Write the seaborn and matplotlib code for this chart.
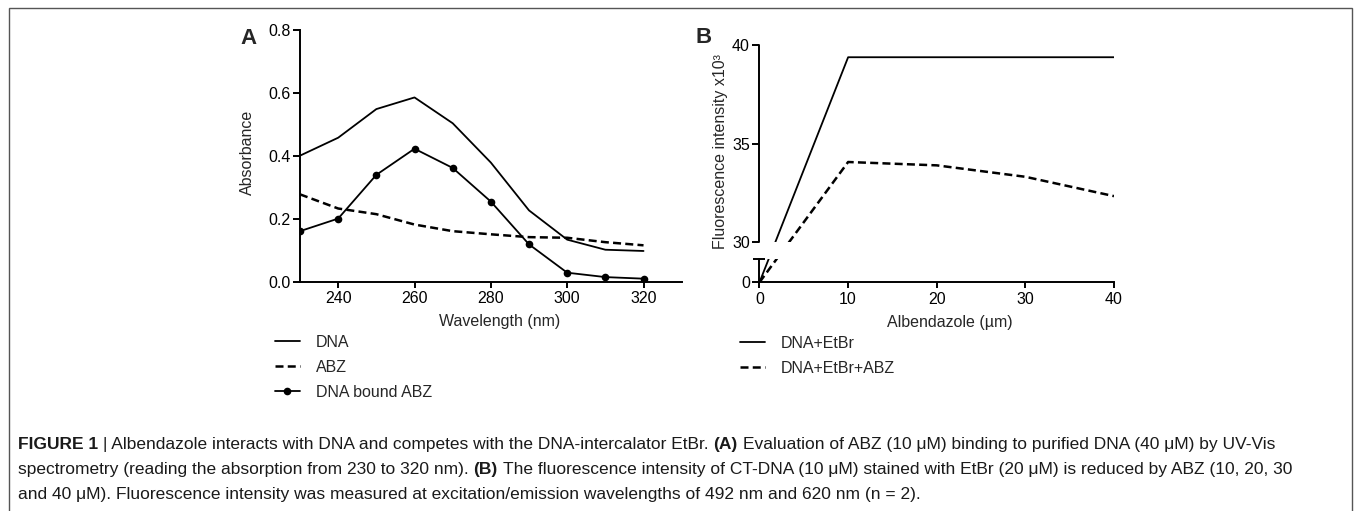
import numpy as np
import pandas as pd
import matplotlib
matplotlib.use("Agg")
import matplotlib.pyplot as plt
import seaborn as sns
from matplotlib.lines import Line2D
from matplotlib.patches import Rectangle

# === DATA ===
wavelength = [230, 240, 250, 260, 270, 280, 290, 300, 310, 320]
abs_dna = [0.400, 0.457, 0.548, 0.585, 0.503, 0.378, 0.226, 0.133, 0.101, 0.097]
abs_abz = [0.277, 0.232, 0.214, 0.181, 0.160, 0.150, 0.141, 0.139, 0.125, 0.115]
abs_bound = [0.160, 0.200, 0.339, 0.422, 0.361, 0.254, 0.118, 0.028, 0.014, 0.009]

albendazole = [0, 10, 20, 30, 40]
fl_etbr = [0.0, 39.38, 39.38, 39.38, 39.38]
fl_etbr_abz = [0.0, 34.07, 33.90, 33.32, 32.34]

labels_a = ["DNA", "ABZ", "DNA bound ABZ"]
labels_b = ["DNA+EtBr", "DNA+EtBr+ABZ"]

caption = [
    [("FIGURE 1", "bold"), ("| Albendazole interacts with DNA and competes with the DNA-intercalator EtBr.", "normal"),
     ("(A)", "bold"), ("Evaluation of ABZ (10 \u03bcM) binding to purified DNA (40 \u03bcM) by UV-Vis", "normal")],
    [("spectrometry (reading the absorption from 230 to 320 nm).", "normal"), ("(B)", "bold"),
     ("The fluorescence intensity of CT-DNA (10 \u03bcM) stained with EtBr (20 \u03bcM) is reduced by ABZ (10, 20, 30", "normal")],
    [("and 40 \u03bcM). Fluorescence intensity was measured at excitation/emission wavelengths of 492 nm and 620 nm (n = 2).", "normal")],
]

# === STYLE ===
sns.set_theme(style="ticks")
plt.rcParams["font.family"] = ["Liberation Sans", "DejaVu Sans"]
plt.rcParams.update({
    "font.size": 11.5,
    "axes.linewidth": 1.4,
    "xtick.major.width": 1.4,
    "ytick.major.width": 1.4,
    "xtick.major.size": 4,
    "ytick.major.size": 5,
    "xtick.major.pad": 3,
    "ytick.major.pad": 2,
    "xtick.labelsize": 11.5,
    "ytick.labelsize": 11.5,
    "axes.labelsize": 11.5,
    "xtick.color": "black",
    "ytick.color": "black",
    "axes.edgecolor": "black",
})

W, H = 1355, 511
fig = plt.figure(figsize=(W / 100, H / 100), dpi=100)


def px_axes(left, right, top, bottom):
    return fig.add_axes([left / W, 1 - bottom / H, (right - left) / W, (bottom - top) / H])


dash = (0, (3.2, 1.7))
lw = 1.3

# === PANEL A ===
ax = px_axes(300, 681.7, 29.8, 281.5)
df_a = pd.DataFrame({"wl": wavelength, "dna": abs_dna, "abz": abs_abz, "bound": abs_bound})
sns.lineplot(data=df_a, x="wl", y="dna", ax=ax, color="black", lw=lw)
sns.lineplot(data=df_a, x="wl", y="abz", ax=ax, color="black", lw=1.8, linestyle=dash)
sns.lineplot(data=df_a, x="wl", y="bound", ax=ax, color="black", lw=lw, marker="o", markersize=5.5,
             markeredgewidth=0)
ax.set_xlim(230, 330)
ax.set_ylim(0, 0.8)
ax.set_xticks([240, 260, 280, 300, 320])
ax.set_yticks([0.0, 0.2, 0.4, 0.6, 0.8])
ax.yaxis.set_major_formatter(matplotlib.ticker.FormatStrFormatter("%.1f"))
ax.set_xlabel("Wavelength (nm)")
ax.set_ylabel("Absorbance")
ax.xaxis.set_label_coords(0.524, -0.128)
ax.yaxis.set_label_coords(-0.118, 0.5125)
sns.despine(ax=ax)

handles_a = [
    Line2D([], [], color="black", lw=lw),
    Line2D([], [], color="black", lw=1.8, linestyle=dash),
    Line2D([], [], color="black", lw=lw, marker="o", markersize=5.5, markeredgewidth=0),
]
ax.legend(handles_a, labels_a, loc="upper left", bbox_to_anchor=(275 / W, 1 - 334.5 / H),
          bbox_transform=fig.transFigure, frameon=False, handlelength=1.56, handletextpad=1.0,
          labelspacing=0.64, borderpad=0, borderaxespad=0, fontsize=11.5)

# === PANEL B (broken y axis, GraphPad style) ===
LOW = 1.0
ys = [-40, 0, LOW, 30, 40, 80]
ts = [-40 * 23, 0, 23, 40, 237.3, 237.3 + 40 * 19.73]


def fwd(y):
    return np.interp(y, ys, ts)


def inv(t):
    return np.interp(t, ts, ys)


bx = px_axes(759.5, 1114, 45, 282.3)
bx.set_yscale("function", functions=(fwd, inv))
df_b = pd.DataFrame({"alb": albendazole, "etbr": fl_etbr, "etbr_abz": fl_etbr_abz})
sns.lineplot(data=df_b, x="alb", y="etbr", ax=bx, color="black", lw=lw)
sns.lineplot(data=df_b, x="alb", y="etbr_abz", ax=bx, color="black", lw=1.8, linestyle=dash)
bx.set_xlim(0, 40)
bx.set_ylim(0, 40)
bx.set_xticks([0, 10, 20, 30, 40])
bx.set_yticks([0, 30, 35, 40])
bx.set_yticklabels(["0", "30", "35", "40"])
bx.yaxis.set_minor_locator(matplotlib.ticker.NullLocator())
bx.set_xlabel("Albendazole (\u00b5m)")
bx.set_ylabel("Fluorescence intensity x10\u00b3")
bx.xaxis.set_label_coords(0.537, -0.136)
bx.yaxis.set_label_coords(-0.09, 0.553)
sns.despine(ax=bx)
bx.spines["left"].set_visible(False)
# gap of the broken axis
bx.axhspan(LOW, 30, color="white", zorder=3, lw=0)
ytr = bx.get_yaxis_transform()
bx.plot([0, 0], [0, LOW], color="black", lw=1.4, transform=ytr, clip_on=False, zorder=4)
bx.plot([0, 0], [30, 40], color="black", lw=1.4, transform=ytr, clip_on=False, zorder=4)
bx.plot([0], [LOW], marker="_", markersize=9, mew=1.4, color="black", transform=ytr,
        clip_on=False, zorder=4)

handles_b = [
    Line2D([], [], color="black", lw=lw),
    Line2D([], [], color="black", lw=1.8, linestyle=dash),
]
bx.legend(handles_b, labels_b, loc="upper left", bbox_to_anchor=(740 / W, 1 - 335.5 / H),
          bbox_transform=fig.transFigure, frameon=False, handlelength=1.56, handletextpad=1.0,
          labelspacing=0.64, borderpad=0, borderaxespad=0, fontsize=11.5)

# panel letters
fig.text(240 / W, 1 - 44 / H, "A", fontsize=16, fontweight="bold", va="baseline")
fig.text(695 / W, 1 - 43 / H, "B", fontsize=16, fontweight="bold", va="baseline")

# === CAPTION ===
cap_size = 12.5
renderer = fig.canvas.get_renderer()
probe1 = fig.text(0, 0, "x x", fontsize=cap_size)
probe2 = fig.text(0, 0, "xx", fontsize=cap_size)
space = probe1.get_window_extent(renderer).width - probe2.get_window_extent(renderer).width
probe1.remove()
probe2.remove()

baselines = [449, 474, 499]
for line, base in zip(caption, baselines):
    x = 18
    for text, weight in line:
        t = fig.text(x / W, 1 - base / H, text, fontsize=cap_size, fontweight=weight,
                     va="baseline", ha="left", color="#1a1a1a")
        x = t.get_window_extent(renderer).x1 + space

# frame around the figure
fig.add_artist(Rectangle((9 / W, -0.1), (1352 - 9) / W, 1.1 - 8 / H, transform=fig.transFigure,
                         fill=False, edgecolor="#555555", lw=1.0))

fig.savefig("out.png", dpi=100)
